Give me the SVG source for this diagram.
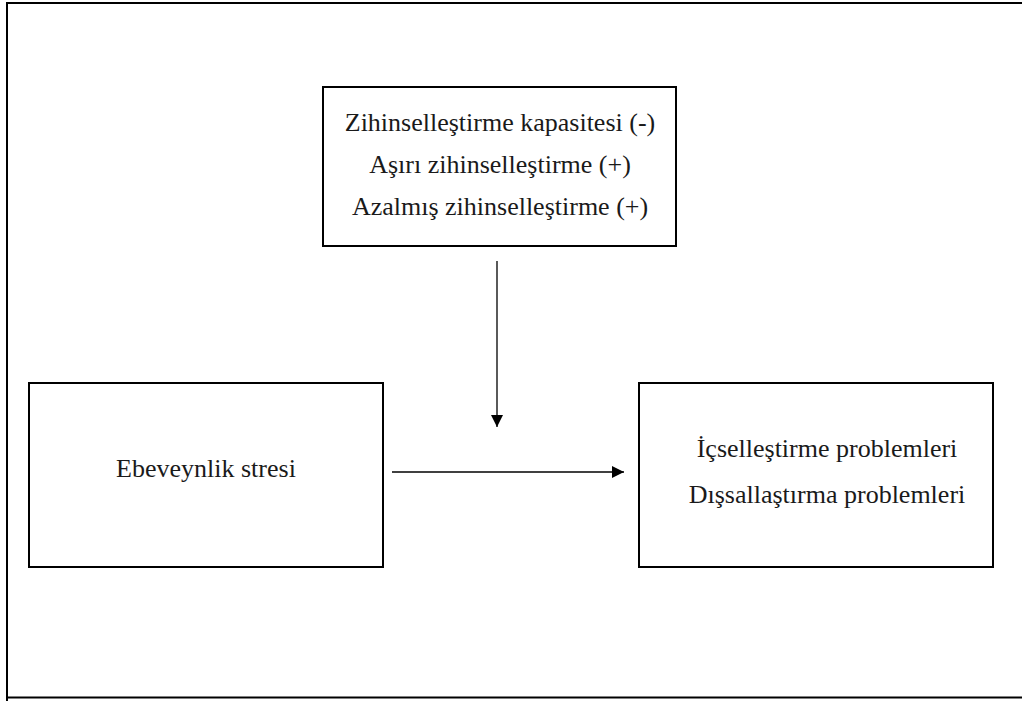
<svg xmlns="http://www.w3.org/2000/svg" width="1022" height="701" viewBox="0 0 1022 701">
<defs>
<style>
.box{fill:#fff;stroke:#000;stroke-width:2}
.t{font-family:'Liberation Serif','Times New Roman',Tinos,'DejaVu Serif',serif;font-size:26px;fill:#1a1a1a;text-anchor:middle}
.c{stroke:#000;stroke-width:1.3;fill:none}
</style>
<marker id="ah" markerWidth="12" markerHeight="12" refX="12" refY="6" orient="auto" markerUnits="userSpaceOnUse">
<path d="M0,0 L12,6 L0,12 Z" fill="#000"/>
</marker>
</defs>
<rect width="1022" height="701" fill="#fff"/>
<path d="M7,701 V3 H1022 M7,697.5 H1022" fill="none" stroke="#000" stroke-width="2"/>
<g id="moderator">
<rect class="box" x="323" y="87" width="353" height="159"/>
<text class="t" x="500" y="131">Zihinselleştirme kapasitesi (-)</text>
<text class="t" x="500" y="173">Aşırı zihinselleştirme (+)</text>
<text class="t" x="500" y="215">Azalmış zihinselleştirme (+)</text>
</g>
<g id="predictor">
<rect class="box" x="29" y="383" width="354" height="184"/>
<text class="t" x="206" y="477">Ebeveynlik stresi</text>
</g>
<g id="outcome">
<rect class="box" x="639" y="383" width="354" height="184"/>
<text class="t" x="827" y="457">İçselleştirme problemleri</text>
<text class="t" x="827" y="503">Dışsallaştırma problemleri</text>
</g>
<g id="connectors">
<line class="c" x1="497" y1="261" x2="497" y2="427" marker-end="url(#ah)"/>
<line class="c" x1="392" y1="472" x2="624" y2="472" marker-end="url(#ah)"/>
</g>
</svg>
